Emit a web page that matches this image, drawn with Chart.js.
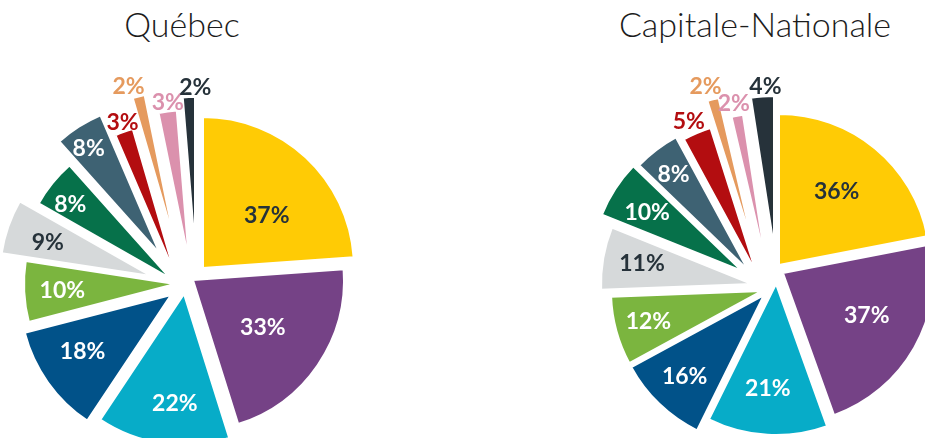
<!DOCTYPE html>
<html><head><meta charset="utf-8">
<script src="https://cdn.jsdelivr.net/npm/chart.js@4.4.0/dist/chart.umd.min.js"></script>
<style>
html,body{margin:0;padding:0;width:925px;height:438px;overflow:hidden;background:#fff;}
.title{position:absolute;top:7px;font-family:Lato,"Noto Sans",sans-serif;font-weight:300;font-size:34px;line-height:34px;color:#1c1c1c;transform:translateX(-50%);white-space:nowrap;}
canvas{position:absolute;}
</style></head><body>
<div class="title" style="left:182px">Québec</div>
<div class="title" style="left:755px">Capitale-Nationale</div>
<canvas id="c1" width="420" height="420" style="left:-19px;top:68px"></canvas>
<canvas id="c2" width="420" height="420" style="left:561px;top:66px"></canvas>
<script>
// ---- data ----
const categories = ["Cat 1","Cat 2","Cat 3","Cat 4","Cat 5","Cat 6","Cat 7","Cat 8","Cat 9","Cat 10","Cat 11","Cat 12"];
const quebecValues = [37, 33, 22, 18, 10, 9, 8, 8, 3, 2, 3, 2];
const capitaleValues = [36, 37, 21, 16, 12, 11, 10, 8, 5, 2, 2, 4];
const titles = ["Québec", "Capitale-Nationale"];

// ---- styles ----
const colors = ["#FFCB05","#754286","#07ACC8","#015289","#7BB53F","#D6D9DA","#06714A","#3E6273","#B30D10","#E59A5E","#DB91AD","#26323A"];
const labelColors = ["#26323A","#fff","#fff","#fff","#fff","#26323A","#fff","#fff","#fff","#fff","#fff","#fff"];
// how far each slice is pulled out of the pie (exploded), px [dx, dy]
const quebecShift = [[12,-10],[2,2],[-7,16],[-20,17],[-16,6],[-40,-2],[-21,0],[-31,-24],[-16,-4],[-16,-35],[-2,-17],[4,-30]];
const capitaleShift = [[8,-11],[12,-3],[5,8],[-7,19],[-9,15],[-19,8],[-29,-5],[-23,-6],[-15,-4],[-18,-31],[-5,-12],[3,-29]];
// fine adjustment of label placement, px [dx, dy]
const quebecLabelNudge = [[2,13],[-5,-4],[6,2],[-1,-7],[5,0],[8,4],[-8,0],[-8,-7],[3,2],[-7,2],[2,3],[7,2]];
const capitaleLabelNudge = [[0,-5],[5,-3],[-2,-3],[-5,3],[0,-2],[6,-1],[4,5],[-3,-3],[-3,-1],[-4,-1],[-1,0],[4,2]];

// moves each arc out of the pie (exploded slices)
const explodePlugin = {
  id: 'explode',
  afterDatasetUpdate(chart, args, opts) {
    const shifts = opts.shifts || [];
    chart.getDatasetMeta(args.index).data.forEach((arc, i) => {
      const s = shifts[i] || [0, 0];
      arc.x += s[0];
      arc.y += s[1];
    });
  }
};

const labelPlugin = {
  id: 'sliceLabels',
  afterDatasetsDraw(chart, args, opts) {
    const ctx = chart.ctx;
    const meta = chart.getDatasetMeta(0);
    const ds = chart.data.datasets[0];
    const nudges = opts.nudges || [];
    ctx.save();
    ctx.font = "bold 23px Lato, 'Noto Sans', sans-serif";
    ctx.textAlign = 'center';
    ctx.textBaseline = 'middle';
    meta.data.forEach((arc, i) => {
      const span = arc.endAngle - arc.startAngle;
      const mid = (arc.startAngle + arc.endAngle) / 2;
      let r, col;
      if (ds.data[i] <= 5) {
        r = arc.outerRadius + 13;
        col = colors[i];
      } else {
        const frac = span > 1.0 ? 0.6 : (span > 0.6 ? 0.71 : 0.78);
        r = arc.outerRadius * frac;
        col = labelColors[i];
      }
      const n = nudges[i] || [0, 0];
      ctx.fillStyle = col;
      ctx.fillText(ds.data[i] + '%', arc.x + Math.cos(mid) * r + n[0], arc.y + Math.sin(mid) * r + 1 + n[1]);
    });
    ctx.restore();
  }
};

function makePie(id, values, shifts, nudges) {
  return new Chart(document.getElementById(id), {
    type: 'pie',
    data: {
      labels: categories,
      datasets: [{
        data: values,
        backgroundColor: colors,
        borderColor: '#ffffff',
        borderWidth: 2,
        radius: 151
      }]
    },
    options: {
      responsive: false,
      animation: false,
      layout: { padding: 0 },
      plugins: {
        legend: { display: false }, tooltip: { enabled: false }, title: { display: false },
        explode: { shifts: shifts },
        sliceLabels: { nudges: nudges }
      }
    },
    plugins: [explodePlugin, labelPlugin]
  });
}
makePie('c1', quebecValues, quebecShift, quebecLabelNudge);
makePie('c2', capitaleValues, capitaleShift, capitaleLabelNudge);
</script>
</body></html>
